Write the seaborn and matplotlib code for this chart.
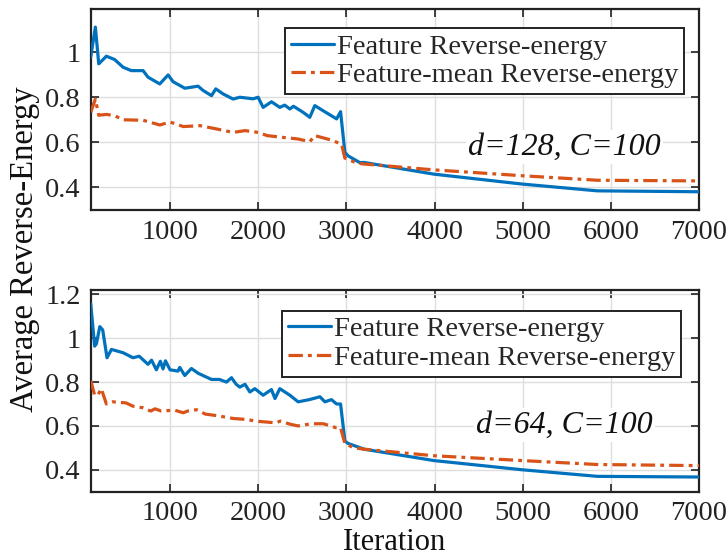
import matplotlib
matplotlib.use("Agg")
import matplotlib.pyplot as plt
import matplotlib.ticker as mticker
import numpy as np
import pandas as pd
import seaborn as sns

sns.set_theme(style="white")
plt.rcParams["font.family"] = ["Liberation Serif", "DejaVu Serif"]

# ---- d=128, C=100 ----
it_feat_128 = [100, 153, 191, 278, 372, 467, 562, 694, 750, 883, 978, 1034, 1167, 1318, 1375,
               1470, 1519, 1600, 1715, 1791, 1942, 1999, 2056, 2150, 2245, 2300, 2359, 2400,
               2510, 2585, 2642, 2737, 2889, 2934, 2983, 3020, 3153, 3199, 3993, 4995, 5847, 7000]
feat_128 = [0.978, 1.111, 0.948, 0.982, 0.967, 0.933, 0.918, 0.918, 0.889, 0.859, 0.899, 0.869,
            0.840, 0.849, 0.830, 0.807, 0.837, 0.815, 0.792, 0.800, 0.793, 0.800, 0.755, 0.780,
            0.755, 0.765, 0.748, 0.760, 0.733, 0.711, 0.763, 0.740, 0.704, 0.736, 0.556, 0.540,
            0.510, 0.511, 0.459, 0.415, 0.385, 0.381]
it_mean_128 = [100, 153, 191, 278, 372, 467, 694, 883, 1000, 1150, 1340, 1520, 1715, 1850, 2000,
               2100, 2280, 2450, 2585, 2642, 2830, 2945, 2983, 3120, 3199, 3993, 4995, 5847, 7000]
mean_128 = [0.733, 0.792, 0.720, 0.724, 0.718, 0.700, 0.698, 0.677, 0.690, 0.670, 0.674, 0.660,
            0.644, 0.652, 0.644, 0.630, 0.622, 0.615, 0.603, 0.630, 0.610, 0.592, 0.530, 0.508,
            0.504, 0.478, 0.452, 0.432, 0.429]

# ---- d=64, C=100 ----
it_feat_64 = [100, 145, 165, 203, 236, 285, 335, 467, 580, 650, 750, 790, 845, 890, 920, 948,
              1000, 1090, 1110, 1167, 1242, 1320, 1470, 1560, 1640, 1697, 1750, 1791, 1850, 1905,
              1962, 2056, 2150, 2190, 2245, 2359, 2453, 2580, 2700, 2756, 2830, 2889, 2934, 2983,
              3020, 3153, 3199, 3993, 4995, 5847, 7000]
feat_64 = [1.157, 0.964, 0.975, 1.053, 1.038, 0.911, 0.949, 0.934, 0.911, 0.918, 0.881, 0.900,
           0.856, 0.895, 0.860, 0.897, 0.856, 0.850, 0.867, 0.830, 0.862, 0.840, 0.812, 0.812,
           0.800, 0.820, 0.790, 0.777, 0.790, 0.755, 0.770, 0.740, 0.766, 0.725, 0.770, 0.740,
           0.710, 0.720, 0.733, 0.710, 0.720, 0.700, 0.700, 0.531, 0.520, 0.501, 0.494, 0.442,
           0.400, 0.370, 0.367]
it_mean_64 = [100, 145, 180, 220, 278, 350, 500, 580, 690, 780, 830, 900, 1050, 1150, 1200,
              1300, 1400, 1530, 1715, 1850, 2000, 2200, 2250, 2370, 2453, 2600, 2740, 2880,
              2934, 2983, 3080, 3199, 3993, 4995, 5847, 7000]
mean_64 = [0.807, 0.740, 0.740, 0.770, 0.700, 0.710, 0.705, 0.690, 0.683, 0.668, 0.678, 0.668,
           0.672, 0.660, 0.668, 0.674, 0.654, 0.647, 0.634, 0.630, 0.621, 0.614, 0.622, 0.607,
           0.600, 0.610, 0.610, 0.592, 0.592, 0.520, 0.501, 0.494, 0.464, 0.442, 0.424, 0.419]

xticks = [1000, 2000, 3000, 4000, 5000, 6000, 7000]
labels = ["Feature Reverse-energy", "Feature-mean Reverse-energy"]
annotations = ["d=128, C=100", "d=64, C=100"]
BLUE = "#0072BD"
ORANGE = "#D95319"

panels = [
    dict(feat=(it_feat_128, feat_128), mean=(it_mean_128, mean_128),
         ylim=(0.30, 1.19), yticks=[0.4, 0.6, 0.8, 1.0], note=annotations[0],
         rect=[0.1246, 0.6243, 0.8356, 0.3591], leg=(0.975, 0.907), txt=(0.9375, 0.314)),
    dict(feat=(it_feat_64, feat_64), mean=(it_mean_64, mean_64),
         ylim=(0.30, 1.22), yticks=[0.4, 0.6, 0.8, 1.0, 1.2], note=annotations[1],
         rect=[0.1246, 0.1204, 0.8356, 0.3608], leg=(0.970, 0.897), txt=(0.924, 0.330)),
]

fig = plt.figure(figsize=(7.28, 5.59), dpi=100)
fs_tick = 20.5
INK = "#222222"

for i, p in enumerate(panels):
    ax = fig.add_axes(p["rect"])
    d_feat = pd.DataFrame({"it": p["feat"][0], "val": p["feat"][1]})
    d_mean = pd.DataFrame({"it": p["mean"][0], "val": p["mean"][1]})
    sns.lineplot(data=d_feat, x="it", y="val", ax=ax, color=BLUE, lw=2.3,
                 label=labels[0], zorder=3)
    sns.lineplot(data=d_mean, x="it", y="val", ax=ax, color=ORANGE, lw=2.3,
                 linestyle=(0, (4.5, 1.6, 1.2, 1.6)), label=labels[1], zorder=3)
    ax.set_xlim(100, 7000)
    ax.set_ylim(*p["ylim"])
    ax.set_xticks(xticks)
    ax.set_yticks(p["yticks"])
    ax.yaxis.set_major_formatter(mticker.FuncFormatter(lambda v, _: f"{v:g}"))
    ax.grid(True, color="#dedede", lw=1.0)
    ax.tick_params(which="both", direction="in", length=6, width=1.2, color=INK,
                   labelsize=fs_tick, top=True, right=True, bottom=True, left=True,
                   pad=7, labelcolor=INK)
    for s in ax.spines.values():
        s.set_color(INK)
        s.set_linewidth(1.6)
    ax.set_xlabel("")
    ax.set_ylabel("")
    leg = ax.legend(loc="upper right", bbox_to_anchor=p["leg"], fontsize=20.5,
                    frameon=True, fancybox=False, edgecolor=INK, framealpha=1,
                    handlelength=1.5, handletextpad=0.1, borderpad=0.2,
                    labelspacing=0.1, borderaxespad=0)
    leg.get_frame().set_linewidth(1.4)
    ax.text(p["txt"][0], p["txt"][1], p["note"], transform=ax.transAxes,
            ha="right", va="center", fontsize=23, style="italic", color="#111111",
            bbox=dict(facecolor="white", edgecolor="none", pad=1.5), zorder=4)
    if i == 1:
        ax.set_xlabel("Iteration", fontsize=22, labelpad=1, color="#111111")

fig.text(0.034, 0.555, "Average Reverse-Energy", rotation=90, ha="center", va="center",
         fontsize=23.5, color="#111111")

fig.savefig("out.png", dpi=100)
